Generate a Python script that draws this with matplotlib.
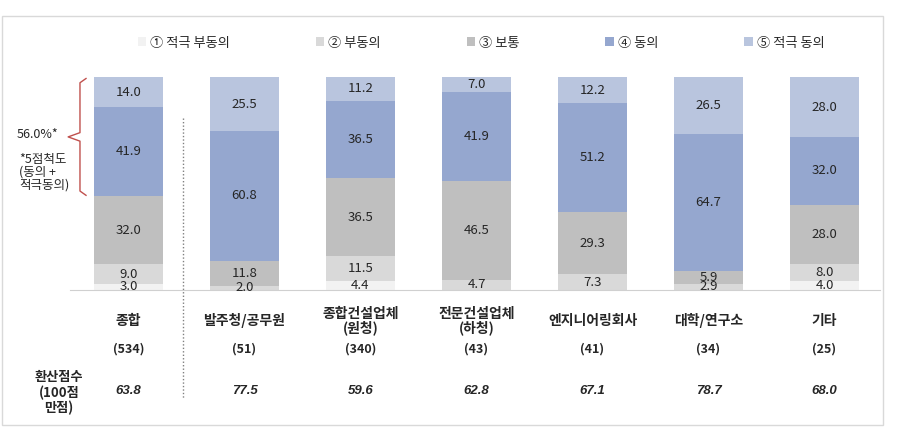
import numpy as np
import matplotlib.pyplot as plt
import matplotlib.transforms as mtransforms
from matplotlib.patches import Rectangle

plt.rcParams['font.family'] = ['Noto Sans CJK KR', 'DejaVu Sans']

categories = ["종합", "발주청/공무원", "종합건설업체\n(원청)", "전문건설업체\n(하청)",
              "엔지니어링회사", "대학/연구소", "기타"]
counts = ["(534)", "(51)", "(340)", "(43)", "(41)", "(34)", "(25)"]
scores = ["63.8", "77.5", "59.6", "62.8", "67.1", "78.7", "68.0"]

series_names = ["① 적극 부동의", "② 부동의", "③ 보통", "④ 동의", "⑤ 적극 동의"]
strongly_disagree = [3.0, 0, 4.4, 0, 0, 0, 4.0]
disagree = [9.0, 2.0, 11.5, 4.7, 7.3, 2.9, 8.0]
neutral = [32.0, 11.8, 36.5, 46.5, 29.3, 5.9, 28.0]
agree = [41.9, 60.8, 36.5, 41.9, 51.2, 64.7, 32.0]
strongly_agree = [14.0, 25.5, 11.2, 7.0, 12.2, 26.5, 28.0]

colors = ["#f2f2f2", "#d9d9d9", "#bfbfbf", "#95a7cf", "#b9c5de"]

W, H = 899, 429


def fy(y):
    # pixel row from top -> figure fraction
    return 1 - y / H


fig = plt.figure(figsize=(W / 100, H / 100), dpi=100)
ax = fig.add_axes([70 / W, fy(290), 810 / W, 213 / H])

x = np.arange(len(categories))
series = [strongly_disagree, disagree, neutral, agree, strongly_agree]
bottom = np.zeros(len(categories))
handles = []
for name, vals, col in zip(series_names, series, colors):
    vals = np.array(vals)
    b = ax.bar(x, vals, 0.595, bottom=bottom, color=col, label=name, edgecolor="none")
    handles.append(b)
    for xi, v, b0 in zip(x, vals, bottom):
        if v > 0:
            ax.text(xi, b0 + v / 2, f"{v:.1f}", ha="center", va="center",
                    fontsize=9.5, color="#262626")
    bottom += vals

ax.set_xlim(-0.504, 6.478)
ax.set_ylim(0, 100.1)
ax.set_xticks([])
ax.set_yticks([])
for s in ["top", "left", "right"]:
    ax.spines[s].set_visible(False)
ax.spines["bottom"].set_color("#d0d0d0")

# legend
fig.legend(handles=handles, loc="center", bbox_to_anchor=(481 / W, fy(43)), ncol=5,
           frameon=False, fontsize=9.5, handlelength=0.65, handleheight=0.65,
           handletextpad=0.3, columnspacing=6.5, labelcolor="#262626")

trans = mtransforms.blended_transform_factory(ax.transData, fig.transFigure)

# category labels, counts, scores
for xi, cat, n, sc in zip(x, categories, counts, scores):
    ax.text(xi, fy(321), cat, transform=trans, ha="center", va="center",
            fontsize=10, fontweight="bold", color="#262626", linespacing=1.0)
    ax.text(xi, fy(349), n, transform=trans, ha="center", va="center",
            fontsize=9, fontweight="bold", color="#262626")
    ax.text(xi, fy(391), sc, transform=trans, ha="center", va="center",
            fontsize=9.5, fontweight="bold", fontstyle="italic",
            family="Liberation Sans", color="#262626")

fig.text(59 / W, fy(393), "환산점수\n(100점\n만점)", ha="center", va="center",
         fontsize=9.5, fontweight="bold", color="#262626", linespacing=1.1)

# dotted separator
ax.plot([0.47, 0.47], [fy(118), fy(398)], transform=trans, color="#808080",
        linestyle=(0, (1, 1.5)), linewidth=1, clip_on=False)

# red bracket around agree + strongly agree of the total bar
top = sum(s[0] for s in series)
low = top - agree[0] - strongly_agree[0]
mid = (top + low) / 2
bx, tip, ends = -0.418, -0.52, -0.366
ax.plot([ends, bx, bx, tip, bx, bx, ends],
        [top - 0.5, top - 2.5, mid + 2, mid, mid - 2, low + 2.5, low + 0.5],
        color="#c0504d", linewidth=1, clip_on=False)

fig.text(17 / W, fy(135), "56.0%*", ha="left", va="center", fontsize=9, color="#262626")
fig.text(19 / W, fy(172), "*5점척도\n(동의 +\n적극동의)", ha="left", va="center",
         fontsize=9, color="#262626", linespacing=1.0)

# outer frame
fig.patches.append(Rectangle((2 / W, fy(425)), 881 / W, 409 / H, transform=fig.transFigure,
                             fill=False, edgecolor="#d9d9d9", linewidth=1))

fig.savefig("out.png", dpi=100)
